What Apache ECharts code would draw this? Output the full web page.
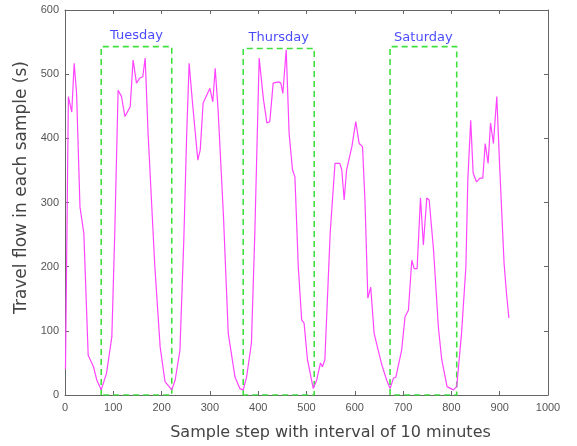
<!DOCTYPE html>
<html>
<head>
<meta charset="utf-8">
<script src="https://cdn.jsdelivr.net/npm/echarts@6/dist/echarts.min.js"></script>
<style>html,body{margin:0;padding:0;background:#fff;}#c{width:577px;height:446px;}</style>
</head>
<body>
<div id="c"></div>
<script>
// Sample steps (x) and travel flow values (y)
const flowX = [1,7,14,19,24,31,39,48,59,66,75,79,86,97,103,110,117,124,135,141,148,155,161,166,172,186,197,207,221,228,238,246,252,257,264,275,280,286,300,306,311,317,328,338,352,362,369,376,386,393,402,411,418,424,431,442,447,451,458,464,471,476,483,490,495,502,514,521,529,533,538,549,559,569,573,578,583,594,602,609,616,621,627,633,640,649,656,666,673,680,685,697,704,711,718,723,729,736,742,749,754,763,773,780,791,804,811,821,830,834,840,845,852,859,865,870,876,881,887,894,900,909,914,919];
const flowY = [40,465,441,517,470,293,252,62,44,23,8,11,34,91,252,475,465,434,449,522,486,494,496,525,408,200,75,21,8,23,70,242,408,517,455,366,382,455,478,457,509,444,280,96,28,10,8,28,81,252,525,460,424,426,486,488,486,470,538,408,351,340,200,117,112,55,10,23,50,44,55,252,361,361,351,304,351,387,426,392,387,304,151,168,96,68,47,23,10,26,28,70,122,132,210,197,197,307,234,307,304,226,106,55,13,8,13,96,200,335,428,346,332,338,338,392,361,424,392,465,355,206,159,120];

// Highlighted days: box start/end sample and box height
const dayNames = ['Tuesday','Thursday','Saturday'];
const boxStart = [75,369,673];
const boxEnd = [221,516,811];
const boxTop = [543,540,543];
const labelY = [560,557,557];

const xTicks = [0,100,200,300,400,500,600,700,800,900,1000];
const yTicks = [0,100,200,300,400,500,600];

const flowData = flowX.map((x,i)=>[x,flowY[i]]);
const boxSeries = dayNames.map((n,i)=>({
  type:'line', name:n+' box', silent:true, symbol:'none',
  data:[[boxStart[i],0],[boxStart[i],boxTop[i]],[boxEnd[i],boxTop[i]],[boxEnd[i],0],[boxStart[i],0]],
  lineStyle:{color:'#3ee03e',width:1.6,type:[6,4]}, z:3
}));
const labelData = dayNames.map((n,i)=>({name:n,value:[(boxStart[i]+boxEnd[i])/2,labelY[i]]}));

const axisCommon = {
  type:'value', splitLine:{show:false},
  axisLine:{show:true,onZero:false,lineStyle:{color:'#666',width:1}},
  axisTick:{show:true,inside:true,length:4,lineStyle:{color:'#666'}}
};
const chart = echarts.init(document.getElementById('c'),null,{renderer:'canvas'});
chart.setOption({
  animation:false,
  backgroundColor:'#fff',
  grid:{left:65,right:29,top:10,bottom:51,containLabel:false},
  xAxis:[
    Object.assign({},axisCommon,{min:0,max:1000,interval:100,position:'bottom',
      name:'Sample step with interval of 10 minutes',nameLocation:'middle',nameGap:30,
      nameTextStyle:{fontFamily:'DejaVu Sans',fontSize:16,color:'#444',padding:[0,0,0,48]},
      axisLabel:{fontFamily:'Liberation Sans',fontSize:11,color:'#555',margin:7,
        formatter:v=>xTicks.includes(v)?String(v):''}}),
    Object.assign({},axisCommon,{min:0,max:1000,interval:100,position:'top',axisLabel:{show:false}})
  ],
  yAxis:[
    Object.assign({},axisCommon,{min:0,max:600,interval:100,position:'left',
      name:'Travel flow in each sample (s)',nameLocation:'middle',nameGap:34,
      nameTextStyle:{fontFamily:'DejaVu Sans',fontSize:17,color:'#444',padding:[0,0,0,30]},
      axisLabel:{fontFamily:'Liberation Sans',fontSize:11,color:'#555',margin:6,
        formatter:v=>yTicks.includes(v)?String(v):''}}),
    Object.assign({},axisCommon,{min:0,max:600,interval:100,position:'right',axisLabel:{show:false}})
  ],
  series:[
    {type:'line',name:'flow',data:flowData,symbol:'none',
      lineStyle:{color:'#ff44ff',width:1.2},z:4},
    ...boxSeries,
    {type:'scatter',name:'labels',data:labelData,symbolSize:0,silent:true,
      label:{show:true,position:'inside',formatter:p=>p.name,
        fontFamily:'DejaVu Sans',fontSize:13,color:'#1a1aff'},z:5}
  ]
});
</script>
</body>
</html>
